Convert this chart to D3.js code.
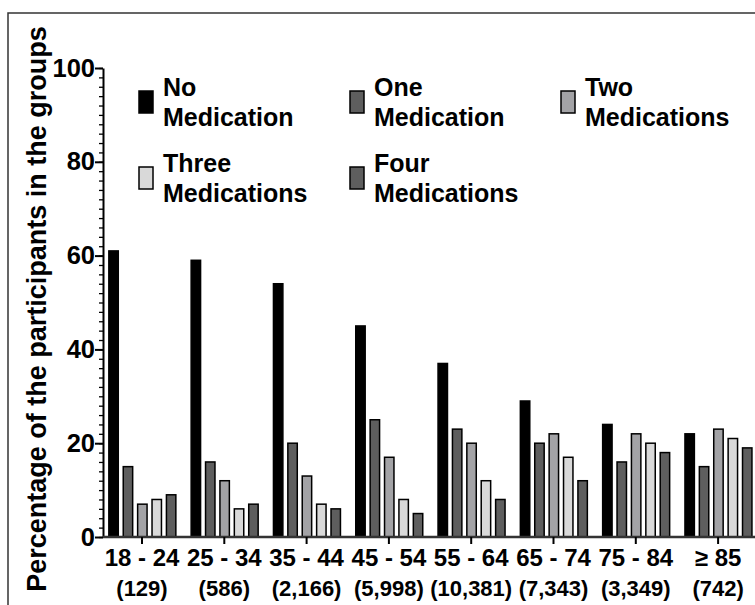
<!DOCTYPE html>
<html>
<head>
<meta charset="utf-8">
<script src="https://cdn.jsdelivr.net/npm/d3@7"></script>
<style>
  html, body { margin: 0; padding: 0; background: #fff; }
  svg { display: block; }
  text { font-family: "Liberation Sans", Arial, Helvetica, sans-serif; font-weight: bold; fill: #000; }
</style>
</head>
<body>
<svg id="chart" width="755" height="605"></svg>
<script>
// ---- Data ----
const categories = ["18 - 24", "25 - 34", "35 - 44", "45 - 54", "55 - 64", "65 - 74", "75 - 84", "\u2265 85"];
const sampleSizes = ["(129)", "(586)", "(2,166)", "(5,998)", "(10,381)", "(7,343)", "(3,349)", "(742)"];
const seriesNames = ["No Medication", "One Medication", "Two Medications", "Three Medications", "Four Medications"];
const legendLine1 = ["No", "One", "Two", "Three", "Four"];
const legendLine2 = ["Medication", "Medication", "Medications", "Medications", "Medications"];
const noMedication    = [61, 59, 54, 45, 37, 29, 24, 22];
const oneMedication   = [15, 16, 20, 25, 23, 20, 16, 15];
const twoMedications  = [7, 12, 13, 17, 20, 22, 22, 23];
const threeMedications= [8, 6, 7, 8, 12, 17, 20, 21];
const fourMedications = [9, 7, 6, 5, 8, 12, 18, 19];
const yTicks = [0, 20, 40, 60, 80, 100];
const yAxisTitle = "Percentage of the participants in the groups";

const seriesValues = [noMedication, oneMedication, twoMedications, threeMedications, fourMedications];
const colors = ["#000000", "#5e5e5e", "#a3a3a6", "#d9d9d9", "#5e5e5e"];

// ---- Layout ----
const svg = d3.select("#chart");
const axisX = 103;
const x0 = d3.scaleBand().domain(categories).range([100.85, 100.85 + 82.3 * 8]).padding(0);
const x1 = d3.scaleBand().domain(seriesNames).range([8, 75]).paddingInner(0.345).paddingOuter(0);
const y = d3.scaleLinear().domain([0, 100]).range([537, 68]);

// Frame
svg.append("rect")
  .attr("x", 8).attr("y", 13).attr("width", 900).attr("height", 900)
  .attr("fill", "none").attr("stroke", "#333").attr("stroke-width", 1.5);

// Bars
const groups = svg.append("g").selectAll("g")
  .data(categories)
  .join("g")
  .attr("transform", d => `translate(${x0(d)},0)`);

groups.selectAll("rect")
  .data((d, i) => seriesNames.map((s, j) => ({ s, j, v: seriesValues[j][i] })))
  .join("rect")
  .attr("x", d => x1(d.s))
  .attr("width", x1.bandwidth())
  .attr("y", d => y(d.v))
  .attr("height", d => y(0) - y(d.v))
  .attr("fill", d => colors[d.j])
  .attr("stroke", "#000")
  .attr("stroke-width", 1.5);

// Y axis with minor ticks
const yMinor = d3.range(0, 101, 2);
const yMinorG = svg.append("g").attr("transform", `translate(${axisX},0)`)
  .call(d3.axisLeft(y).tickValues(yMinor).tickSize(4).tickFormat(""));
yMinorG.select(".domain").remove();
yMinorG.selectAll("line").attr("stroke", "#000").attr("stroke-width", 1.3);

const yAxisG = svg.append("g").attr("transform", `translate(${axisX},0)`)
  .call(d3.axisLeft(y).tickValues(yTicks).tickSize(8).tickSizeOuter(0).tickPadding(0));
yAxisG.select(".domain").attr("stroke", "#000").attr("stroke-width", 2);
yAxisG.selectAll(".tick line").attr("stroke", "#000").attr("stroke-width", 2);
yAxisG.selectAll(".tick text")
  .style("font-family", '"Liberation Sans", Arial, sans-serif')
  .style("font-weight", "bold")
  .style("font-size", "25.5px")
  .attr("fill", "#000");

// X axis
const xAxisG = svg.append("g").attr("transform", `translate(0,${y(0)})`)
  .call(d3.axisBottom(x0).tickSize(7).tickSizeOuter(0).tickFormat(""));
xAxisG.select(".domain").attr("d", `M${axisX},0H760`).attr("stroke", "#333").attr("stroke-width", 2.5);
xAxisG.selectAll(".tick line").attr("stroke", "#000").attr("stroke-width", 2);

// X labels (two rows)
const xl = svg.append("g");
xl.selectAll("text.cat")
  .data(categories).join("text")
  .attr("class", "cat")
  .attr("x", d => x0(d) + x0.bandwidth() / 2)
  .attr("y", 566)
  .attr("text-anchor", "middle")
  .style("font-size", "24px")
  .text(d => d);
xl.selectAll("text.n")
  .data(sampleSizes).join("text")
  .attr("class", "n")
  .attr("x", (d, i) => x0(categories[i]) + x0.bandwidth() / 2)
  .attr("y", 596)
  .attr("text-anchor", "middle")
  .style("font-size", "22px")
  .text(d => d);

// Y axis title
svg.append("text")
  .attr("transform", "translate(46,309) rotate(-90)")
  .attr("text-anchor", "middle")
  .style("font-size", "27px")
  .text(yAxisTitle);

// Legend
const legendPos = [[139, 91], [350, 91], [561, 91], [139, 167], [350, 167]];
const lg = svg.append("g").selectAll("g")
  .data(seriesNames).join("g")
  .attr("transform", (d, i) => `translate(${legendPos[i][0]},${legendPos[i][1]})`);
lg.append("rect")
  .attr("width", 14).attr("height", 22)
  .attr("fill", (d, i) => colors[i])
  .attr("stroke", "#000").attr("stroke-width", 1.5);
lg.append("text")
  .attr("x", 24).attr("y", 5)
  .style("font-size", "25px")
  .text((d, i) => legendLine1[i]);
lg.append("text")
  .attr("x", 24).attr("y", 35)
  .style("font-size", "25px")
  .text((d, i) => legendLine2[i]);
</script>
</body>
</html>
